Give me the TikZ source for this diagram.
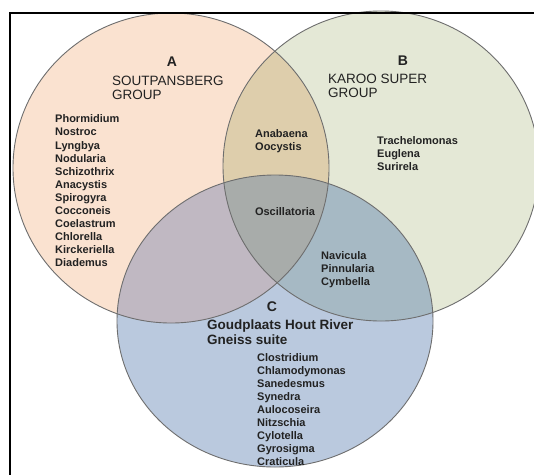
\documentclass[tikz,border=0pt]{standalone}
\usepackage{fontspec}
\setmainfont{Liberation Sans}
\definecolor{fillA}{HTML}{FAE2D0}
\definecolor{fillB}{HTML}{E4E8D6}
\definecolor{fillC}{HTML}{BAC9DE}
\definecolor{fillAB}{HTML}{DECEAC}
\definecolor{fillAC}{HTML}{C0B8C2}
\definecolor{fillBC}{HTML}{A6B9C4}
\definecolor{fillABC}{HTML}{A8ACAA}
\definecolor{edgegrey}{HTML}{6E6E6E}
\definecolor{txt}{HTML}{222222}
\begin{document}
\begin{tikzpicture}[x=1pt,y=-1pt,
  ring/.style={draw=edgegrey, line width=0.9pt},
  species/.style={anchor=west, inner sep=0pt, align=left, text=txt,
    font=\bfseries\fontsize{11}{13.1}\selectfont},
  grouptitle/.style={anchor=west, inner sep=0pt, align=left, text=txt,
    font=\fontsize{13.5}{14.5}\selectfont},
  ctitle/.style={anchor=west, inner sep=0pt, align=left, text=txt,
    font=\bfseries\fontsize{13.5}{15}\selectfont},
  setletter/.style={inner sep=0pt, text=txt, font=\bfseries\fontsize{14}{16}\selectfont}]
\useasboundingbox (0,0) rectangle (534,474);
\fill[white] (0,0) rectangle (534,474);
% single sets
\fill[fillA] (171,168) ellipse [x radius=158pt, y radius=155pt];
\fill[fillB] (381,166) ellipse [x radius=158pt, y radius=155pt];
\fill[fillC] (275,321) ellipse [x radius=158pt, y radius=146pt];
% pairwise
\begin{scope}
  \clip (171,168) ellipse [x radius=158pt, y radius=155pt];
  \fill[fillAB] (381,166) ellipse [x radius=158pt, y radius=155pt];
  \fill[fillAC] (275,321) ellipse [x radius=158pt, y radius=146pt];
  \begin{scope}
    \clip (381,166) ellipse [x radius=158pt, y radius=155pt];
    \fill[fillABC] (275,321) ellipse [x radius=158pt, y radius=146pt];
  \end{scope}
\end{scope}
\begin{scope}
  \clip (381,166) ellipse [x radius=158pt, y radius=155pt];
  \clip (275,321) ellipse [x radius=158pt, y radius=146pt];
  \fill[fillBC] (171,168) ellipse [x radius=158pt, y radius=155pt] (0,0) rectangle (600,500);
\end{scope}
\begin{scope}
  \clip (171,168) ellipse [x radius=158pt, y radius=155pt];
  \clip (381,166) ellipse [x radius=158pt, y radius=155pt];
  \fill[fillABC] (275,321) ellipse [x radius=158pt, y radius=146pt];
\end{scope}
% outlines
\draw[ring] (171,168) ellipse [x radius=158pt, y radius=155pt];
\draw[ring] (381,166) ellipse [x radius=158pt, y radius=155pt];
\draw[ring] (275,321) ellipse [x radius=158pt, y radius=146pt];
% set A
\node[setletter] (letA) at (172,62) {A};
\node[grouptitle] (titleA) at (112,88) {SOUTPANSBERG\\GROUP};
\node[species] (listA) at (55,191) {Phormidium\\Nostroc\\Lyngbya\\Nodularia\\Schizothrix\\Anacystis\\Spirogyra\\Cocconeis\\Coelastrum\\Chlorella\\Kirckeriella\\Diademus};
% set B
\node[setletter] (letB) at (403,61) {B};
\node[grouptitle] (titleB) at (328,86) {KAROO SUPER\\GROUP};
\node[species] (listB) at (377,153.5) {Trachelomonas\\Euglena\\Surirela};
% set C
\node[setletter] (letC) at (272,307) {C};
\node[ctitle] (titleC) at (207,332.5) {Goudplaats Hout River\\Gneiss suite};
\node[species] (listC) at (257,409.5) {Clostridium\\Chlamodymonas\\Sanedesmus\\Synedra\\Aulocoseira\\Nitzschia\\Cylotella\\Gyrosigma\\Craticula};
% overlaps
\node[species] (listAB) at (255,141.5) {Anabaena\\Oocystis};
\node[species, anchor=center] (listABC) at (285,212) {Oscillatoria};
\node[species] (listBC) at (321,270) {Navicula\\Pinnularia\\Cymbella};
% frame
\draw[line width=1.5pt, black] (10,13) rectangle (560,500);
\end{tikzpicture}
\end{document}
